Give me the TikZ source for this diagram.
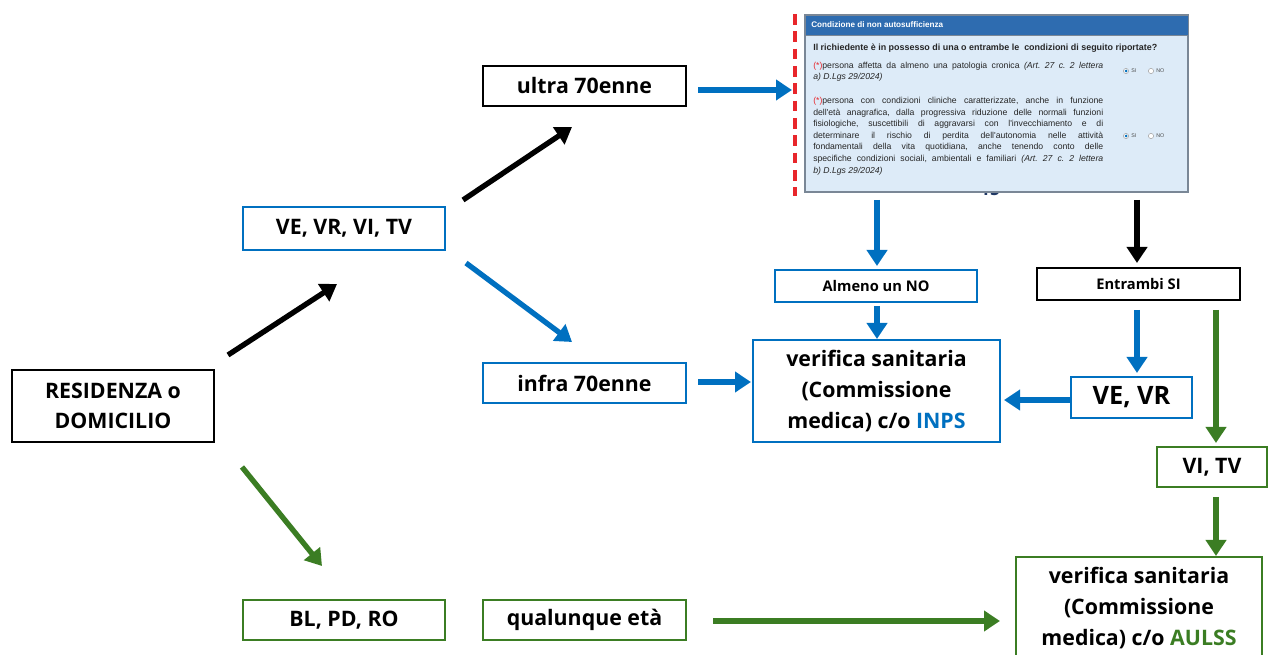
\documentclass[tikz,border=0pt]{standalone}
\usepackage{fontspec}
\setmainfont{Open Sans}
\newfontfamily\panelfont{Liberation Sans}
\usetikzlibrary{arrows.meta}
\frenchspacing
\definecolor{cblue}{HTML}{0070C0}
\definecolor{cgreen}{HTML}{3B7D23}
\definecolor{hdrblue}{HTML}{2E6CB0}
\definecolor{panelbg}{HTML}{DDEBF8}
\definecolor{panelbd}{HTML}{7A8796}
\definecolor{cred}{HTML}{E8262B}
\definecolor{navy}{HTML}{1F3864}
\begin{document}
\begin{tikzpicture}[x=0.75pt,y=-0.75pt,
  box/.style={draw, line width=2.2pt, fill=white, inner sep=0pt, align=center,
    font=\bfseries\fontsize{16}{23.6}\selectfont},
  bbox/.style={box, draw=black},
  ubox/.style={box, draw=cblue},
  gbox/.style={box, draw=cgreen},
  sbox/.style={box, line width=1.9pt, font=\bfseries\fontsize{11}{13}\selectfont},
  arr/.style={line width=4pt, -{Triangle[width=15pt,length=12pt]}},
  ptxt/.style={inner sep=0pt, font=\panelfont\fontsize{6.5}{8.7}\selectfont, text=black!85},
  radio/.style={inner sep=0pt, font=\panelfont\fontsize{4}{4.5}\selectfont, text=black!70},
]
\useasboundingbox (0,0) rectangle (1268,655);

% hidden fragment behind panel
\node[inner sep=0pt, font=\bfseries\fontsize{13}{15}\selectfont, text=navy] (frag) at (990,189) {15};

% screenshot panel
\node[draw=panelbd, line width=0.8pt, fill=panelbg, minimum width=287.25pt, minimum height=132.75pt, inner sep=0pt] (panel) at (996.5,103.5) {};
\node[fill=hdrblue, draw=panelbd, line width=0.6pt, minimum width=287.25pt, minimum height=15pt, inner sep=0pt] (hdr) at (996.5,25) {};
\node[anchor=west, inner sep=0pt, font=\panelfont\bfseries\fontsize{6.1}{7}\selectfont, text=white] (title) at (811,25) {Condizione di non autosufficienza};
\node[anchor=west, ptxt, font=\panelfont\bfseries\fontsize{6.7}{7.5}\selectfont] (quest) at (813,48) {Il richiedente è in possesso di una o entrambe le\ \ condizioni di seguito riportate?};
\node[anchor=north west, ptxt, text width=217.5pt, align=justify, font=\panelfont\fontsize{6.5}{8.25}\selectfont] (p1) at (813,62)
  {{\color{cred}(*)}persona affetta da almeno una patologia cronica \textit{(Art. 27 c. 2 lettera}\linebreak \textit{a) D.Lgs 29/2024)}};
\node[anchor=north west, ptxt, text width=217.5pt, align=justify] (p2) at (813,97)
  {{\color{cred}(*)}persona con condizioni cliniche caratterizzate, anche in funzione\linebreak
   dell'età anagrafica, dalla progressiva riduzione delle normali funzioni\linebreak
   fisiologiche, suscettibili di aggravarsi con l'invecchiamento e di\linebreak
   determinare il rischio di perdita dell'autonomia nelle attività\linebreak
   fondamentali della vita quotidiana, anche tenendo conto delle\linebreak
   specifiche condizioni sociali, ambientali e familiari \textit{(Art. 27 c. 2 lettera}\linebreak
   \textit{b) D.Lgs 29/2024)}};
% radio buttons
\foreach \ry/\nm in {71/ra, 136/rb} {
  \draw[gray!70, line width=0.4pt, fill=white] (1126,\ry) circle (2.6);
  \fill[cblue] (1126,\ry) circle (1.5);
  \node[radio, anchor=west] (\nm si) at (1131,\ry) {SI};
  \draw[gray!70, line width=0.4pt, fill=white] (1151,\ry) circle (2.6);
  \node[radio, anchor=west] (\nm no) at (1156,\ry) {NO};
}
\draw[cred, line width=2.3pt, dash pattern=on 8pt off 5pt] (795,14) -- (795,196);

% main boxes
\node[bbox, minimum width=151.5pt, minimum height=54pt, font=\bfseries\fontsize{16}{22.5}\selectfont] (res) at (113,406) {RESIDENZA o\\DOMICILIO};
\node[ubox, minimum width=151.5pt, minimum height=32.25pt] (v4) at (344,228.5) {VE, VR, VI, TV};
\node[bbox, minimum width=152.25pt, minimum height=30pt] (ultra) at (584.5,86) {ultra 70enne};
\node[ubox, minimum width=152.25pt, minimum height=30pt] (infra) at (584.5,383) {infra 70enne};
\node[gbox, minimum width=151.5pt, minimum height=30pt] (blpd) at (344,620) {BL, PD, RO};
\node[gbox, minimum width=152.25pt, minimum height=30pt] (qual) at (584.5,620) {qualunque età};
\node[sbox, draw=cblue, minimum width=151.5pt, minimum height=24pt] (almeno) at (876,286) {Almeno un NO};
\node[sbox, draw=black, minimum width=152.25pt, minimum height=24pt] (entr) at (1138.5,284) {Entrambi SI};
\node[ubox, minimum width=185.25pt, minimum height=76.5pt] (inps) at (876.5,391) {verifica sanitaria\\(Commissione\\medica) c/o {\color{cblue}INPS}};
\node[ubox, minimum width=90.75pt, minimum height=30.75pt, font=\bfseries\fontsize{19}{22}\selectfont] (vevr) at (1131.5,397.5) {VE, VR};
\node[gbox, minimum width=82.5pt, minimum height=30pt] (vitv) at (1212,467) {VI, TV};
\node[gbox, minimum width=184.5pt, minimum height=76.5pt] (aulss) at (1139,608) {verifica sanitaria\\(Commissione\\medica) c/o {\color{cgreen}AULSS}};

% arrow end points
\coordinate (a1s) at (228,355);  \coordinate (a1e) at (337,284);
\coordinate (a2s) at (463,200);  \coordinate (a2e) at (572,127);
\coordinate (a3s) at (466,263);  \coordinate (a3e) at (572,342);
\coordinate (a4s) at (242,467);  \coordinate (a4e) at (322,566);
\coordinate (a5s) at (698,90);   \coordinate (a5e) at (792,90);
\coordinate (a6s) at (877,200);  \coordinate (a6e) at (877,266);
\coordinate (a7s) at (1137,200); \coordinate (a7e) at (1137,263);
\coordinate (a8s) at (877,306);  \coordinate (a8e) at (877,339);
\coordinate (a9s) at (1137,310); \coordinate (a9e) at (1137,373);
\coordinate (a10s) at (1216,310); \coordinate (a10e) at (1216,443);
\coordinate (a11s) at (1070,400); \coordinate (a11e) at (1004,400);
\coordinate (a12s) at (698,382); \coordinate (a12e) at (751,382);
\coordinate (a13s) at (1216,497); \coordinate (a13e) at (1216,556);
\coordinate (a14s) at (713,621); \coordinate (a14e) at (1000,621);

\draw[arr, black] (a1s) -- (a1e);
\draw[arr, black] (a2s) -- (a2e);
\draw[arr, cblue] (a3s) -- (a3e);
\draw[arr, cgreen] (a4s) -- (a4e);
\draw[arr, cblue] (a5s) -- (a5e);
\draw[arr, cblue] (a6s) -- (a6e);
\draw[arr, black] (a7s) -- (a7e);
\draw[arr, cblue] (a8s) -- (a8e);
\draw[arr, cblue] (a9s) -- (a9e);
\draw[arr, cgreen] (a10s) -- (a10e);
\draw[arr, cblue] (a11s) -- (a11e);
\draw[arr, cblue] (a12s) -- (a12e);
\draw[arr, cgreen] (a13s) -- (a13e);
\draw[arr, cgreen] (a14s) -- (a14e);
\end{tikzpicture}
\end{document}
